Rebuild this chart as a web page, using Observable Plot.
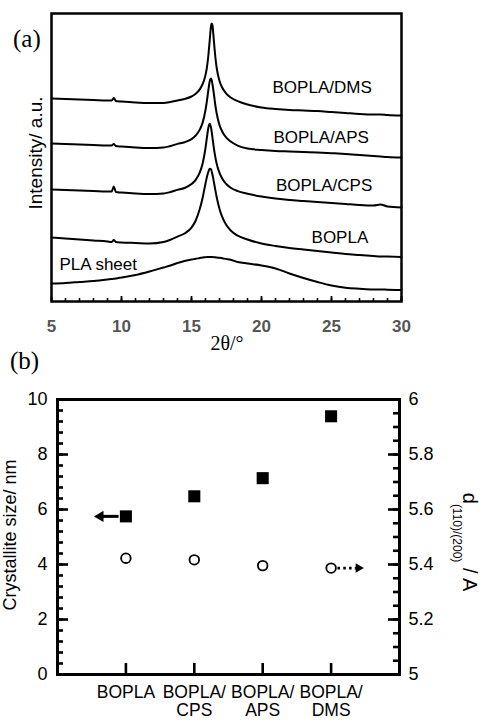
<!DOCTYPE html>
<html><head><meta charset="utf-8">
<script src="https://cdn.jsdelivr.net/npm/d3@7"></script>
<script src="https://cdn.jsdelivr.net/npm/@observablehq/plot@0.6"></script>
<style>
body{margin:0;background:#fff}
#chart{position:relative;width:480px;height:722px;overflow:hidden;background:#fff}
#chart svg{display:block;overflow:visible}
</style></head><body><div id="chart"></div>
<script>
// ---------- Panel (a): XRD patterns (intensity in a.u., curves stacked) ----------
const twoTheta = [5,6,7,8,9,9.3,9.45,9.6,10,11,12,13,13.5,14,14.5,15,15.3,15.6,15.8,16.0,16.1,16.2,16.3,16.4,16.45,16.5,16.6,16.7,16.8,17.0,17.2,17.5,17.8,18.3,19,20,21,22,23,24,25,26,27,28,28.5,29,30];
const boplaDMS = [203,202.5,202,201.5,201,201,203.5,200.5,200,199,198.5,198.5,199.5,201,202.5,205,207.7,212.4,217.6,226.4,234,245.5,261,276,278,276,260.5,245,233.5,220.5,213.7,207.6,204,200.4,197,194,192.5,191.5,191,190.5,189.5,188.5,187.5,187,187,186.5,186];
const boplaAPS = [158,157.5,157,156.5,156,156,157.5,155.5,155,154,153.5,154,155.5,157.6,159.2,162.4,166,172.1,179.1,191.5,200.5,211,220,223,221,217,207.5,196.5,188,176.4,169.8,163.6,160,155.9,153,151.5,150.5,150,149.5,149,148.3,147.5,146.5,145.5,145,144.5,144];
const boplaCPS = [112,111.5,111,110.5,110,110,115,109.5,109,108,107.5,108,109.5,111.6,113.5,117.4,121.7,129.3,138.3,153.5,163.8,173.6,177.8,173.5,169,163.7,153.2,144.6,137.8,128.6,122.8,117.3,113.8,110.4,107.7,105,103,101.5,100.5,99.5,98.5,97.5,96.5,96,97,95,94];
const bopla = [64,63,62,61,60,59.5,61.5,59.5,59,58.5,58,59.5,61.8,64.9,68,73.8,81,93,104,118,124.5,129.5,132.8,132,129.6,126.7,119.4,111.6,104.3,92.6,84.3,76.2,71,65.9,62,58,55.5,53.5,52,50.5,49,47.5,46.5,45.5,45,45,44.5];
const plaSheet = [18,18.5,19.5,20.5,22,22.5,22.7,23,24,26.5,30,34,36,38.5,40.5,42,42.7,43.5,44,44.3,44.5,44.5,44.5,44.5,44.5,44.5,44.3,44.2,44,43.7,43.2,42.5,41.7,39.5,38,36,33,28,23.5,19.5,16,13.7,12.7,12,12,11.8,11.5];
const seriesNames = ["BOPLA/DMS","BOPLA/APS","BOPLA/CPS","BOPLA","PLA sheet"];
const seriesValues = [boplaDMS, boplaAPS, boplaCPS, bopla, plaSheet];
const labelNames = ["BOPLA/DMS","BOPLA/APS","BOPLA/CPS","BOPLA","PLA sheet"];
const labelTheta = [24.33,24.26,24.47,25.6,5.57];
const labelLevel = [214,164,116,64,37];
const xTicksA = [5,10,15,20,25,30];

// ---------- Panel (b): crystallite size and d-spacing ----------
const categories = ["BOPLA","BOPLA/\nCPS","BOPLA/\nAPS","BOPLA/\nDMS"];
const crystalliteSize = [5.75,6.48,7.14,9.39];   // nm (left axis)
const dSpacing = [5.423,5.417,5.396,5.387];        // Å (right axis)
const leftTicks = [0,2,4,6,8,10];
const rightTicks = [5,5.2,5.4,5.6,5.8,6];

const font = "'Liberation Sans', Arial, sans-serif";
const serif = "'Liberation Serif', 'Times New Roman', serif";

// long table for lines
const curves = [];
seriesNames.forEach((name, s) => twoTheta.forEach((t, i) => curves.push({name, t, v: seriesValues[s][i]})));
const labelsA = labelNames.map((n, i) => ({n, t: labelTheta[i], v: labelLevel[i]}));

const HA = 288;
const svgA = Plot.plot({
  width: 480, height: 352,
  marginLeft: 51, marginRight: 79, marginTop: 13, marginBottom: 51,
  style: {fontFamily: font, fontSize: "17px", background: "white", color: "black"},
  x: {domain: [5, 30], label: null},
  y: {domain: [0, 288], axis: null},
  marks: [
    Plot.line(curves, {x: "t", y: "v", z: "name", stroke: "black", strokeWidth: 2, curve: "monotone-x"}),
    Plot.text(labelsA.slice(0, 4), {x: "t", y: "v", text: "n", fontSize: 17, textAnchor: "middle"}),
    Plot.text(labelsA.slice(4), {x: "t", y: "v", text: "n", fontSize: 17, textAnchor: "start"}),
    Plot.tickX(d3.range(5, 31, 1), {x: d => d, insetTop: HA - 3, strokeWidth: 1.6}),
    Plot.tickX(xTicksA, {x: d => d, insetTop: HA - 5, strokeWidth: 1.8}),
    Plot.axisX(xTicksA, {tickSize: 0, tickPadding: 18, fontSize: 17, fontWeight: "bold", fill: "#555", label: null}),
    Plot.frame({strokeWidth: 2.5})
  ]
});
const a = d3.select(svgA);
a.append("text").attr("x", 13).attr("y", 47).attr("text-anchor", "start").attr("font-family", serif).attr("font-size", 25).attr("fill", "black").text("(a)");
a.append("text").attr("transform", "translate(42,153) rotate(-90)").attr("text-anchor", "middle")
  .attr("font-family", font).attr("font-size", 19).attr("fill", "black").text("Intensity/ a.u.");
a.append("text").attr("x", 227).attr("y", 350).attr("text-anchor", "middle")
  .attr("font-family", serif).attr("font-size", 20).attr("fill", "black").text("2θ/°");

// Panel (b)
const WB = 342, HB = 275;
const pts = categories.map((c, i) => ({c, i: i + 1, size: crystalliteSize[i], d: dSpacing[i]}));
const toLeft = d => (d - 5) * 10; // right-axis value -> left-axis units
const arrowSolid = [{x1: pts[0].i - 0.1, x2: pts[0].i - 0.33, y: pts[0].size}];
const arrowDotted = [{x1: pts[3].i + 0.1, x2: pts[3].i + 0.37, y: toLeft(pts[3].d)}];

const svgB = Plot.plot({
  width: 480, height: 370,
  marginLeft: 57, marginRight: 81, marginTop: 47, marginBottom: 48,
  style: {fontFamily: font, fontSize: "18px", background: "white", color: "black"},
  x: {domain: [0, 5], axis: null},
  y: {domain: [0, 10], label: null},
  marks: [
    Plot.tickY(d3.range(0, 10.001, 0.4), {y: d => d, insetRight: WB - 6, strokeWidth: 2.6}),
    Plot.tickY(leftTicks, {y: d => d, insetRight: WB - 11, strokeWidth: 2.6}),
    Plot.tickY(d3.range(0, 10.001, 0.5), {y: d => d, insetLeft: WB - 6, strokeWidth: 2.6}),
    Plot.tickY(rightTicks.map(toLeft), {y: d => d, insetLeft: WB - 11, strokeWidth: 2.6}),
    Plot.tickX(pts, {x: "i", insetTop: HB - 11, strokeWidth: 2.6}),
    Plot.axisY(leftTicks, {anchor: "left", tickSize: 0, tickPadding: 10, fontSize: 18, label: null}),
    Plot.axisY(rightTicks.map(toLeft), {anchor: "right", tickSize: 0, tickPadding: 9, fontSize: 18, label: null,
      tickFormat: d => String(Math.round((5 + d / 10) * 100) / 100)}),
    Plot.text(pts, {x: "i", y: 0, text: "c", lineAnchor: "top", dy: 10, lineHeight: 1.05, fontSize: 17.5}),
    // arrows
    Plot.ruleY(arrowSolid, {y: "y", x1: "x1", x2: "x2", strokeWidth: 3}),
    Plot.dot(arrowSolid, {x: "x2", y: "y", dx: -3, symbol: "triangle", rotate: -90, r: 4.1, fill: "black"}),
    Plot.ruleY(arrowDotted, {y: "y", x1: "x1", x2: "x2", strokeWidth: 2.6, strokeDasharray: "2.6,3.2"}),
    Plot.dot(arrowDotted, {x: "x2", y: "y", dx: 2, symbol: "triangle", rotate: 90, r: 3.5, fill: "black"}),
    // data
    Plot.dot(pts, {x: "i", y: "size", symbol: "square", r: 6.8, fill: "black"}),
    Plot.dot(pts, {x: "i", y: d => toLeft(d.d), r: 4.8, stroke: "black", strokeWidth: 1.8, fill: "white"}),
    Plot.frame({strokeWidth: 3})
  ]
});
const b = d3.select(svgB);
b.append("text").attr("x", 10).attr("y", 17).attr("text-anchor", "start").attr("font-family", serif).attr("font-size", 25).attr("fill", "black").text("(b)");
b.append("text").attr("transform", "translate(16,183) rotate(-90)").attr("text-anchor", "middle")
  .attr("font-family", font).attr("font-size", 18).attr("fill", "black").text("Crystallite size/ nm");
const rl = b.append("text").attr("transform", "translate(463,190) rotate(90)").attr("text-anchor", "middle")
  .attr("font-family", font).attr("font-size", 20).attr("fill", "black");
rl.append("tspan").text("d");
rl.append("tspan").attr("font-size", 12).attr("dy", 10).text("(110)/(200)");
rl.append("tspan").attr("dy", -10).text(" / A");

const chart = document.getElementById("chart");
chart.appendChild(svgA);
chart.appendChild(svgB);
</script></body></html>
